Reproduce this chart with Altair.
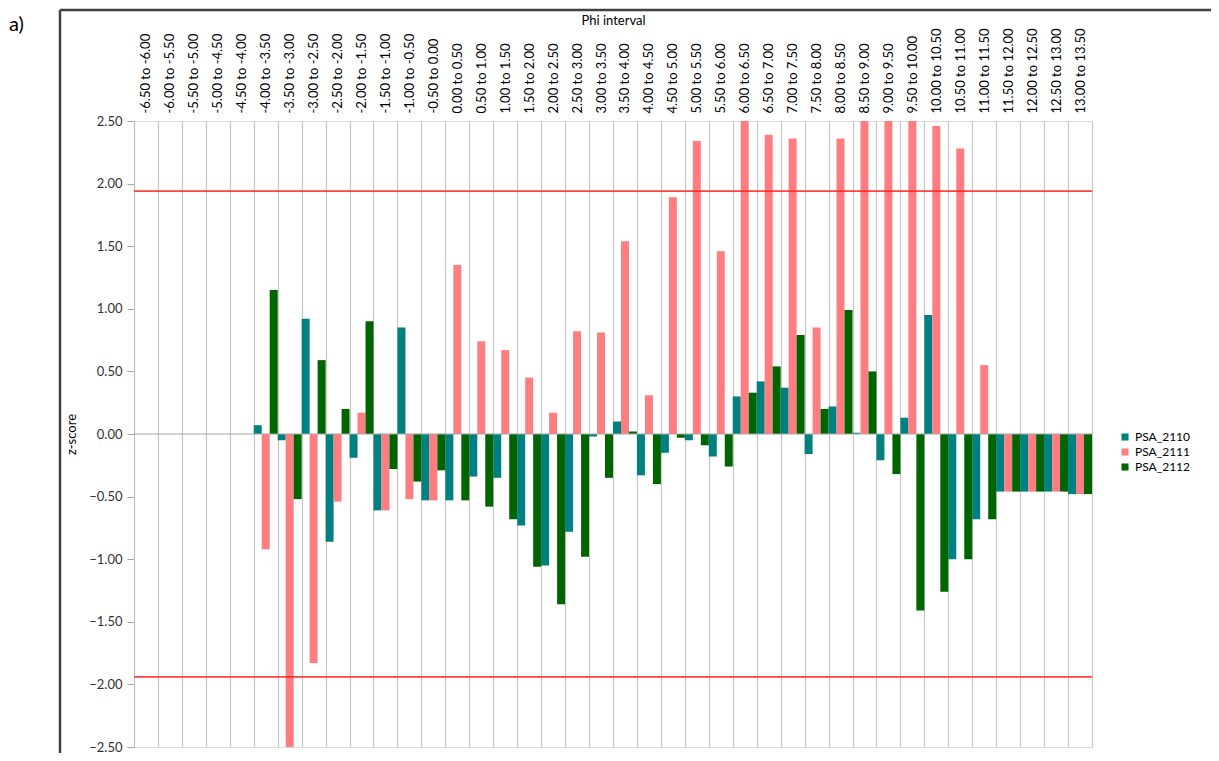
import altair as alt
import pandas as pd

categories = [
    "-6.50 to -6.00", "-6.00 to -5.50", "-5.50 to -5.00", "-5.00 to -4.50",
    "-4.50 to -4.00", "-4.00 to -3.50", "-3.50 to -3.00", "-3.00 to -2.50",
    "-2.50 to -2.00", "-2.00 to -1.50", "-1.50 to -1.00", "-1.00 to -0.50",
    "-0.50 to 0.00", "0.00 to 0.50", "0.50 to 1.00", "1.00 to 1.50",
    "1.50 to 2.00", "2.00 to 2.50", "2.50 to 3.00", "3.00 to 3.50",
    "3.50 to 4.00", "4.00 to 4.50", "4.50 to 5.00", "5.00 to 5.50",
    "5.50 to 6.00", "6.00 to 6.50", "6.50 to 7.00", "7.00 to 7.50",
    "7.50 to 8.00", "8.00 to 8.50", "8.50 to 9.00", "9.00 to 9.50",
    "9.50 to 10.00", "10.00 to 10.50", "10.50 to 11.00", "11.00 to 11.50",
    "11.50 to 12.00", "12.00 to 12.50", "12.50 to 13.00", "13.00 to 13.50",
]

series_names = ["PSA_2110", "PSA_2111", "PSA_2112"]
series_colors = ["#008080", "#FF7C80", "#006400"]

psa_2110 = [None, None, None, None, None,
            0.07, -0.05, 0.92, -0.86, -0.19, -0.61, 0.85, -0.53, -0.53, -0.34,
            -0.35, -0.73, -1.05, -0.78, -0.02, 0.10, -0.33, -0.15, -0.05, -0.18,
            0.30, 0.42, 0.37, -0.16, 0.22, 0.01, -0.21, 0.13, 0.95, -1.00,
            -0.68, -0.46, -0.46, -0.46, -0.48]
psa_2111 = [None, None, None, None, None,
            -0.92, -2.90, -1.83, -0.54, 0.17, -0.61, -0.52, -0.53, 1.35, 0.74,
            0.67, 0.45, 0.17, 0.82, 0.81, 1.54, 0.31, 1.89, 2.34, 1.46,
            2.70, 2.39, 2.36, 0.85, 2.36, 2.80, 2.90, 2.70, 2.46, 2.28,
            0.55, -0.46, -0.46, -0.46, -0.48]
psa_2112 = [None, None, None, None, None,
            1.15, -0.52, 0.59, 0.20, 0.90, -0.28, -0.38, -0.29, -0.53, -0.58,
            -0.68, -1.06, -1.36, -0.98, -0.35, 0.02, -0.40, -0.03, -0.09, -0.26,
            0.33, 0.54, 0.79, 0.20, 0.99, 0.50, -0.32, -1.41, -1.26, -1.00,
            -0.68, -0.46, -0.46, -0.46, -0.48]

thresholds = [1.94, -1.94]
y_ticks = [-2.5, -2.0, -1.5, -1.0, -0.5, 0.0, 0.5, 1.0, 1.5, 2.0, 2.5]

rows = []
for name, vals in zip(series_names, [psa_2110, psa_2111, psa_2112]):
    for c, v in zip(categories, vals):
        if v is not None:
            rows.append({"interval": c, "series": name, "z": v})
df = pd.DataFrame(rows)

W, H = 958, 626
FONT = "Lato"

x_enc = alt.X(
    "interval:N",
    sort=categories,
    scale=alt.Scale(domain=categories, paddingInner=0, paddingOuter=0),
    axis=alt.Axis(
        orient="top", title="Phi interval", labelAngle=-90, ticks=False,
        labelPadding=8, grid=True, gridColor="#c6c6c6", gridWidth=1.2,
        tickBand="extent", domain=False, labelFontSize=13, labelColor="#000000",
        titleFontSize=13, titleFontWeight="normal", titleColor="#000000",
        titleY=-101, titleBaseline="middle", labelFont=FONT, titleFont=FONT,
    ),
)

y_scale = alt.Scale(domain=[-2.5, 2.5], nice=False, clamp=True)

bars = alt.Chart(df).mark_bar(clip=True).encode(
    x=x_enc,
    xOffset=alt.XOffset("series:N", sort=series_names,
                        scale=alt.Scale(domain=series_names, paddingInner=0, paddingOuter=0)),
    y=alt.Y("z:Q", scale=y_scale,
            axis=alt.Axis(values=y_ticks, format=".2f", title="z-score", grid=False,
                          tickSize=7, tickColor="#a6a6a6", domainColor="#bfbfbf",
                          labelPadding=5, labelFontSize=13, labelColor="#333333",
                          titleFontSize=13, titleFontWeight="normal", titleColor="#000000",
                          titlePadding=10, labelFont=FONT, titleFont=FONT)),
    color=alt.Color("series:N",
                    scale=alt.Scale(domain=series_names, range=series_colors),
                    legend=alt.Legend(title=None, orient="none", legendX=985, legendY=310,
                                      symbolType="square", symbolSize=50,
                                      symbolStrokeWidth=0, labelFontSize=12,
                                      labelFont=FONT, rowPadding=3, labelColor="#000000")),
)

zero_rule = alt.Chart(pd.DataFrame({"z": [0.0]})).mark_rule(
    color="#a6a6a6", strokeWidth=1.2
).encode(y=alt.Y("z:Q", scale=y_scale))

thr_rule = alt.Chart(pd.DataFrame({"z": thresholds})).mark_rule(
    color="#FF2020", strokeWidth=1.8, opacity=0.85
).encode(y=alt.Y("z:Q", scale=y_scale))

deco = pd.DataFrame({"k": [0]})
frame_left = alt.Chart(deco).mark_rule(color="#404040", strokeWidth=2.5).encode(
    x=alt.value(-74), y=alt.value(-111), y2=alt.value(H + 30))
frame_top = alt.Chart(deco).mark_rule(color="#404040", strokeWidth=2.5).encode(
    x=alt.value(-74), x2=alt.value(W + 130), y=alt.value(-111))
panel_label = alt.Chart(deco).mark_text(
    text="a)", align="left", baseline="middle", fontSize=20, font=FONT, color="#000000"
).encode(x=alt.value(-125), y=alt.value(-96))

chart = alt.layer(
    bars, zero_rule, thr_rule, frame_left, frame_top, panel_label
).properties(
    width=W, height=H,
    autosize=alt.AutoSizeParams(type="none"),
    padding={"left": 126, "top": 113, "right": 119, "bottom": 6},
).configure_view(stroke=None).configure(font=FONT)

chart.save("out.html", embed_options={"renderer": "svg", "actions": False})
